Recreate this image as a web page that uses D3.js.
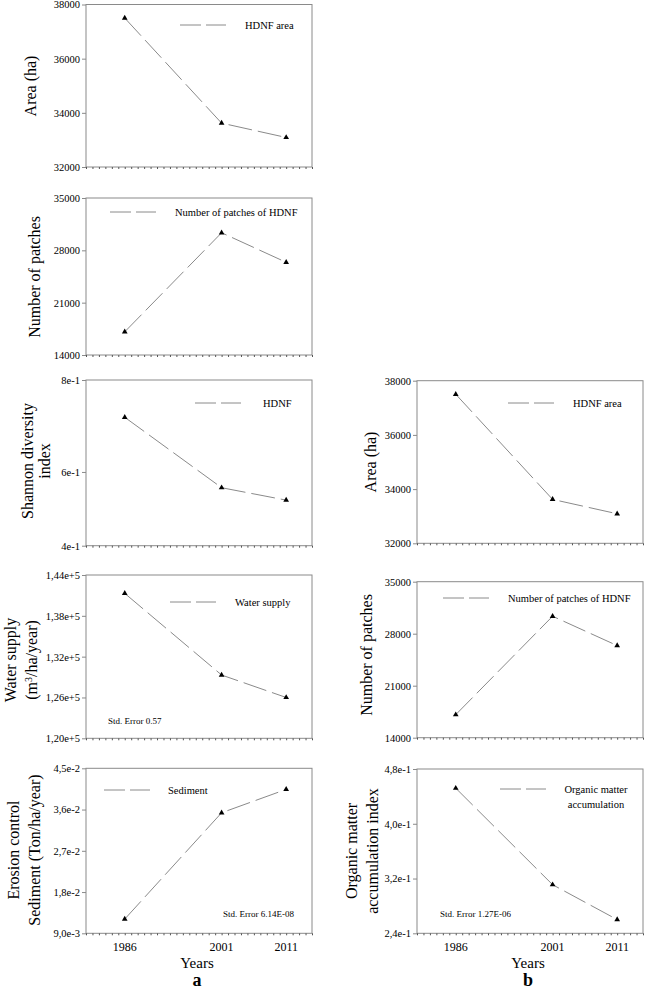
<!DOCTYPE html>
<html>
<head>
<meta charset="utf-8">
<script src="https://cdn.jsdelivr.net/npm/d3@7"></script>
<style>
  body { margin: 0; background: #fff; }
  svg text { font-family: "Liberation Serif", "Times New Roman", Times, serif; fill: #000; }
</style>
</head>
<body>
<div id="chart"></div>
<script>
var width = 647,
  height = 992;

// data
var years = [1986, 2001, 2011];
var yearDomain = [1980, 2015];
var minorYears = d3.range(1980, 2016);

var areaHa = [37500, 33620, 33090];
var patchCount = [17100, 30350, 26400];
var shannonIndex = [0.71, 0.54, 0.51];
var waterSupply = [141300, 129300, 126000];
var sediment = [0.0121, 0.0353, 0.0404];
var organicMatter = [0.452, 0.311, 0.260];

var areaTicks = [32000, 34000, 36000, 38000];
var areaTickLabels = ["32000", "34000", "36000", "38000"];
var patchTicks = [14000, 21000, 28000, 35000];
var patchTickLabels = ["14000", "21000", "28000", "35000"];
var shannonTicks = [0.4, 0.578, 0.8];
var shannonTickLabels = ["4e-1", "6e-1", "8e-1"];
var waterTicks = [120000, 126000, 132000, 138000, 144000];
var waterTickLabels = ["1,20e+5", "1,26e+5", "1,32e+5", "1,38e+5", "1,44e+5"];
var sedimentTicks = [0.009, 0.018, 0.027, 0.036, 0.045];
var sedimentTickLabels = ["9,0e-3", "1,8e-2", "2,7e-2", "3,6e-2", "4,5e-2"];
var organicTicks = [0.24, 0.32, 0.40, 0.48];
var organicTickLabels = ["2,4e-1", "3,2e-1", "4,0e-1", "4,8e-1"];

var gray = "#8a8a8a";
var serif = "'Liberation Serif', 'Times New Roman', Times, serif";

var svg = d3.select("#chart").append("svg")
  .attr("width", width)
  .attr("height", height)
  .attr("font-family", serif);

// layout of the eight panels
var panels = [
  { x0: 86, x1: 312, y0: 4.5, y1: 167, values: areaHa, domain: [32000, 38000],
    ticks: areaTicks, labels: areaTickLabels,
    legend: { x: 180, y: 25, tx: 245, text: ["HDNF area"] },
    ylab: [{ t: "Area (ha)", x: 31 }], ly: 86 },
  { x0: 86, x1: 312, y0: 198, y1: 355, values: patchCount, domain: [14000, 35000],
    ticks: patchTicks, labels: patchTickLabels,
    legend: { x: 110, y: 212, tx: 175, text: ["Number of patches of  HDNF"] },
    ylab: [{ t: "Number of patches", x: 35 }], ly: 277 },
  { x0: 86, x1: 312, y0: 380, y1: 545.7, values: shannonIndex, domain: [0.4, 0.8],
    ticks: shannonTicks, labels: shannonTickLabels,
    legend: { x: 195, y: 403, tx: 263, text: ["HDNF"] },
    ylab: [{ t: "Shannon diversity", x: 28 }, { t: "index", x: 45 }], ly: 461 },
  { x0: 86, x1: 312, y0: 575, y1: 738.3, values: waterSupply, domain: [120000, 144000],
    ticks: waterTicks, labels: waterTickLabels,
    legend: { x: 170, y: 602, tx: 235, text: ["Water supply"] },
    note: { x: 108, y: 724, t: "Std. Error 0.57" },
    ylab: [{ t: "Water supply", x: 11 }, { t: "unit", x: 32 }], ly: 660 },
  { x0: 86, x1: 312, y0: 768.3, y1: 933.3, values: sediment, domain: [0.009, 0.045],
    ticks: sedimentTicks, labels: sedimentTickLabels,
    legend: { x: 104, y: 790, tx: 168, text: ["Sediment"] },
    note: { x: 223, y: 917, t: "Std. Error 6.14E-08" },
    ylab: [{ t: "Erosion control", x: 14 }, { t: "Sediment (Ton/ha/year)", x: 35 }], ly: 850,
    years: true, letter: "a" },
  { x0: 417, x1: 643, y0: 380.7, y1: 543.3, values: areaHa, domain: [32000, 38000],
    ticks: areaTicks, labels: areaTickLabels,
    legend: { x: 508, y: 403, tx: 573, text: ["HDNF area"] },
    ylab: [{ t: "Area (ha)", x: 371 }], ly: 462 },
  { x0: 417, x1: 643, y0: 581.7, y1: 737.7, values: patchCount, domain: [14000, 35000],
    ticks: patchTicks, labels: patchTickLabels,
    legend: { x: 443, y: 598, tx: 508, text: ["Number of patches of HDNF"] },
    ylab: [{ t: "Number of patches", x: 367 }], ly: 655 },
  { x0: 417, x1: 643, y0: 769, y1: 933.3, values: organicMatter, domain: [0.24, 0.48],
    ticks: organicTicks, labels: organicTickLabels,
    legend: { x: 500, y: 789, tx: 596, text: ["Organic matter", "accumulation"], center: true },
    note: { x: 440, y: 917, t: "Std. Error 1.27E-06" },
    ylab: [{ t: "Organic matter", x: 352 }, { t: "accumulation index", x: 373 }], ly: 851,
    years: true, letter: "b" }
];

panels.forEach(drawPanel);

function drawPanel(p) {
  var x = d3.scaleLinear().domain(yearDomain).range([p.x0, p.x1]);
  var y = d3.scaleLinear().domain(p.domain).range([p.y1, p.y0]);
  var g = svg.append("g");

  g.append("rect")
    .attr("x", p.x0).attr("y", p.y0)
    .attr("width", p.x1 - p.x0).attr("height", p.y1 - p.y0)
    .attr("fill", "none").attr("stroke", gray).attr("stroke-width", 1);

  var yAxis = g.append("g")
    .attr("transform", "translate(" + p.x0 + ",0)")
    .call(d3.axisLeft(y).tickValues(p.ticks)
      .tickFormat(function (d, i) { return p.labels[i]; })
      .tickSize(4).tickPadding(2))
    .attr("font-family", serif)
    .attr("font-size", 10.5);
  yAxis.select(".domain").remove();
  yAxis.selectAll("line").attr("stroke", gray);

  var xAxis = g.append("g")
    .attr("transform", "translate(0," + p.y1 + ")")
    .call(d3.axisBottom(x).tickValues(minorYears).tickFormat("").tickSize(2));
  xAxis.select(".domain").remove();
  xAxis.selectAll("line").attr("stroke", "#555");

  if (p.years) {
    g.selectAll(".yr").data(years).enter().append("text")
      .attr("x", function (d) { return x(d); })
      .attr("y", p.y1 + 18)
      .attr("text-anchor", "middle")
      .attr("font-size", 12)
      .text(function (d) { return d; });
    g.append("text")
      .attr("x", (p.x0 + p.x1) / 2 - 2).attr("y", 968)
      .attr("text-anchor", "middle").attr("font-size", 15)
      .text("Years");
    g.append("text")
      .attr("x", (p.x0 + p.x1) / 2 - 2).attr("y", 986)
      .attr("text-anchor", "middle").attr("font-size", 18).attr("font-weight", "bold")
      .text(p.letter);
  }

  var line = d3.line()
    .x(function (d, i) { return x(years[i]); })
    .y(function (d) { return y(d); });

  g.append("path")
    .datum(p.values)
    .attr("d", line)
    .attr("fill", "none")
    .attr("stroke", gray)
    .attr("stroke-width", 1)
    .attr("stroke-dasharray", "24,6");

  g.selectAll(".pt").data(p.values).enter().append("path")
    .attr("transform", function (d, i) { return "translate(" + x(years[i]) + "," + y(d) + ")"; })
    .attr("d", d3.symbol(d3.symbolTriangle, 14))
    .attr("fill", "#000");

  // legend
  g.append("line")
    .attr("x1", p.legend.x).attr("x2", p.legend.x + 46)
    .attr("y1", p.legend.y).attr("y2", p.legend.y)
    .attr("stroke", gray).attr("stroke-dasharray", "21,5");
  p.legend.text.forEach(function (t, i) {
    g.append("text")
      .attr("x", p.legend.tx).attr("y", p.legend.y + 4 + i * 15)
      .attr("text-anchor", p.legend.center ? "middle" : "start")
      .attr("font-size", 10.5)
      .text(t);
  });

  if (p.note) {
    g.append("text")
      .attr("x", p.note.x).attr("y", p.note.y)
      .attr("font-size", 9)
      .text(p.note.t);
  }

  // y axis title, rotated
  p.ylab.forEach(function (l) {
    var t = g.append("text")
      .attr("transform", "translate(" + l.x + "," + p.ly + ") rotate(-90)")
      .attr("dy", "0.3em")
      .attr("text-anchor", "middle")
      .attr("font-size", 16);
    if (l.t === "unit") {
      t.append("tspan").text("(m");
      t.append("tspan").attr("baseline-shift", "super").attr("font-size", 10).text("3");
      t.append("tspan").text("/ha/year)");
    } else {
      t.text(l.t);
    }
  });
}
</script>
</body>
</html>
